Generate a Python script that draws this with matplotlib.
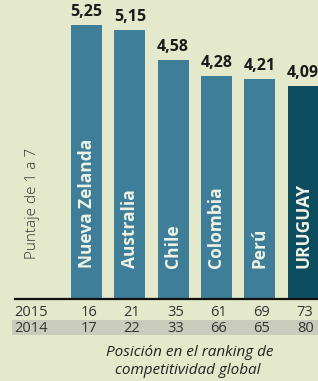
import matplotlib
matplotlib.use("Agg")
import matplotlib.pyplot as plt
from matplotlib.patches import Rectangle

# data
paises = ["Nueva Zelanda", "Australia", "Chile", "Colombia", "Perú", "URUGUAY"]
puntaje = [5.25, 5.15, 4.58, 4.28, 4.21, 4.09]
etiquetas = ["5,25", "5,15", "4,58", "4,28", "4,21", "4,09"]
pos_2015 = [16, 21, 35, 61, 69, 73]
pos_2014 = [17, 22, 33, 66, 65, 80]

fondo = "#e4e9cb"
azul = "#3e7e98"
azul_osc = "#0e4c60"

plt.rcParams["font.family"] = ["Open Sans", "DejaVu Sans"]

W, H = 318, 381
fig = plt.figure(figsize=(W / 100, H / 100), dpi=100)
fig.patch.set_facecolor(fondo)

# axes: baseline at y=299px, 52.2 px per unit, bar spacing 43.3 px
base_px = 299
unit = 52.2
ymax = 5.7
ax = fig.add_axes([0, (H - base_px) / H, 1, ymax * unit / H])
ax.set_facecolor("none")
step = 43.3
x0 = 86.5
ax.set_xlim(-x0 / step, (W - x0) / step)
ax.set_ylim(0, ymax)
for s in ax.spines.values():
    s.set_visible(False)
ax.set_xticks([])
ax.set_yticks([])

xs = list(range(len(paises)))
colores = [azul] * 5 + [azul_osc]
ax.bar(xs, puntaje, width=31 / step, color=colores, linewidth=0)

for x, v, t in zip(xs, puntaje, etiquetas):
    ax.annotate(t, (x, v), xytext=(0, 3.5), textcoords="offset points",
                ha="center", va="bottom", fontsize=11.5, fontweight="bold",
                color="#1a1a1a")

for x, p in zip(xs, paises):
    ax.text(x, 0.6, p, rotation=90, ha="center", va="bottom",
            fontsize=12.5, fontweight="bold", color="#eef3e6")

# baseline
ax.axhline(0, xmin=15 / W, xmax=1, color="#111111", lw=1.6, clip_on=False)

# y label
fig.text(33 / W, 1 - 203 / H, "Puntaje de 1 a 7", rotation=90,
         ha="center", va="center", fontsize=11, color="#333333",
         fontweight="light")

# grey band behind 2014 row
fig.add_artist(Rectangle((12 / W, 1 - 335 / H), (W - 12) / W, 15 / H,
                         transform=fig.transFigure, facecolor="#c9ccbc",
                         edgecolor="none", zorder=0))

tr = ax.get_xaxis_transform()
def fy(px):
    return (base_px - px) / (ymax * unit)

ax.text(-x0 / step + 31 / step, fy(312), "2015", transform=tr, ha="center",
        va="center", fontsize=10.5, color="#333333", clip_on=False)
ax.text(-x0 / step + 31 / step, fy(328), "2014", transform=tr, ha="center",
        va="center", fontsize=10.5, color="#333333", clip_on=False)
for x, a, b in zip(xs, pos_2015, pos_2014):
    ax.text(x + 0.05, fy(312), str(a), transform=tr, ha="center", va="center",
            fontsize=10.5, color="#333333", clip_on=False)
    ax.text(x + 0.05, fy(328), str(b), transform=tr, ha="center", va="center",
            fontsize=10.5, color="#333333", clip_on=False)

fig.text(190 / W, 1 - 352 / H, "Posición en el ranking de", ha="center",
         va="center", fontsize=11, style="italic", color="#222222")
fig.text(188 / W, 1 - 370 / H, "competitividad global", ha="center",
         va="center", fontsize=11, style="italic", color="#222222")

fig.savefig("out.png", dpi=100, facecolor=fondo)
